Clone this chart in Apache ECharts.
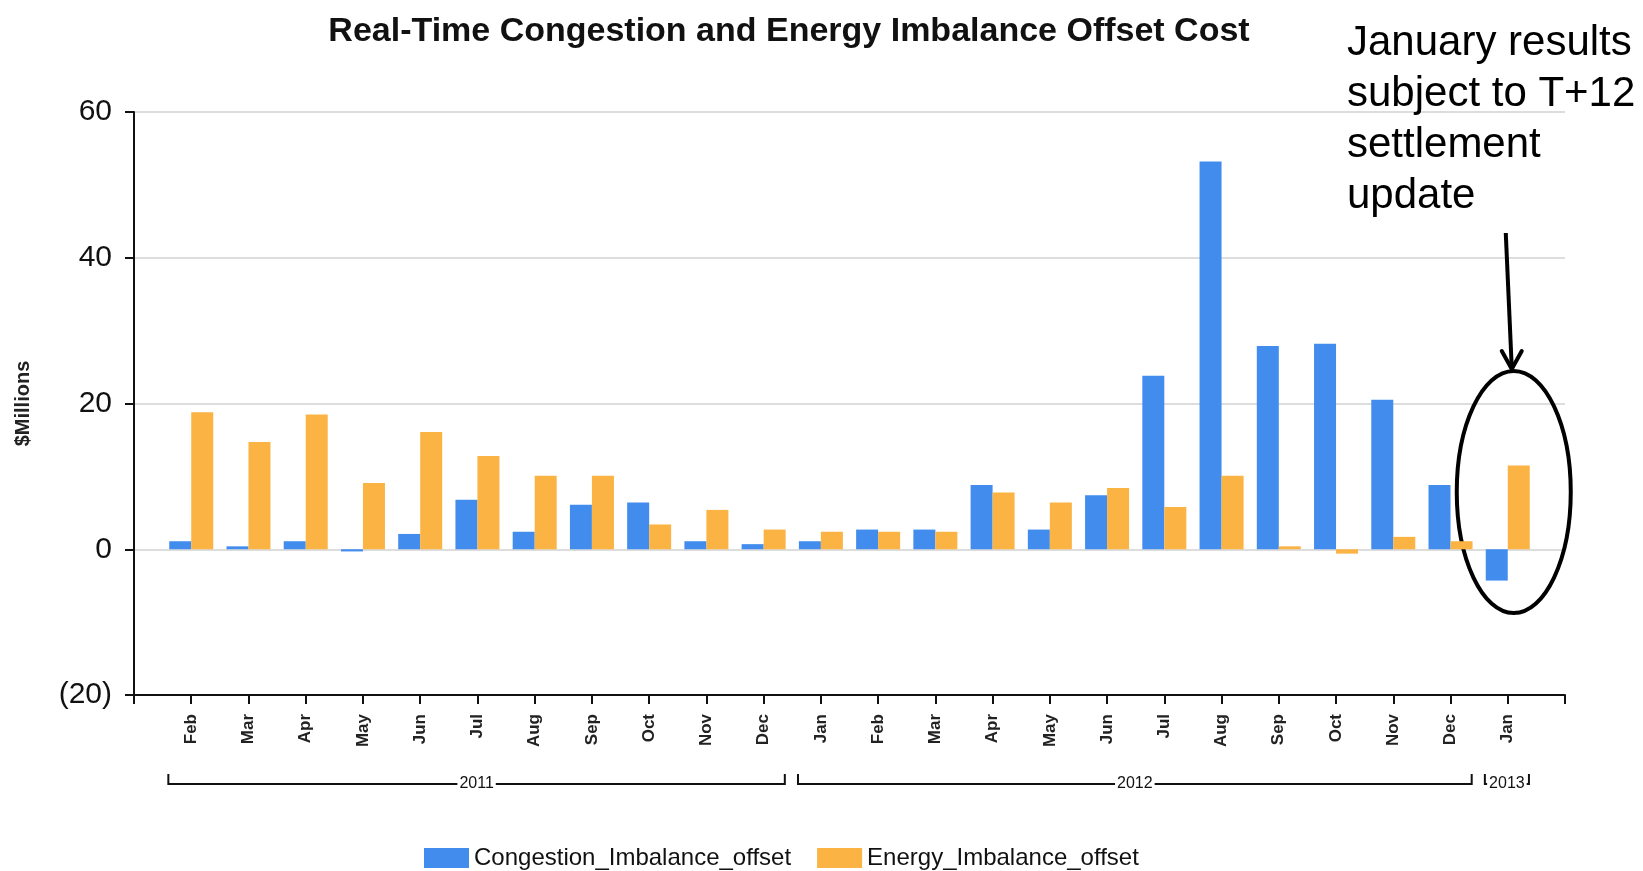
<!DOCTYPE html>
<html>
<head>
<meta charset="utf-8">
<title>Real-Time Congestion and Energy Imbalance Offset Cost</title>
<script src="https://cdn.jsdelivr.net/npm/echarts@6/dist/echarts.min.js"></script>
<style>
  html, body { margin: 0; padding: 0; background: #fff; }
  #bar { width: 1643px; height: 871px; }
</style>
</head>
<body>
<div id="bar"></div>
<script>
// ---------------- data ($Millions) ----------------
const months = ['Feb', 'Mar', 'Apr', 'May', 'Jun', 'Jul', 'Aug', 'Sep', 'Oct', 'Nov', 'Dec',
  'Jan', 'Feb', 'Mar', 'Apr', 'May', 'Jun', 'Jul', 'Aug', 'Sep', 'Oct', 'Nov', 'Dec',
  'Jan']
const congestion = [1.1, 0.4, 1.1, -0.3, 2.1, 6.8, 2.4, 6.1, 6.4, 1.1, 0.7,
  1.1, 2.7, 2.7, 8.8, 2.7, 7.4, 23.8, 53.2, 27.9, 28.2, 20.5, 8.8,
  -4.3]
const energy = [18.8, 14.7, 18.5, 9.1, 16.1, 12.8, 10.1, 10.1, 3.4, 5.4, 2.7,
  2.4, 2.4, 2.4, 7.8, 6.4, 8.4, 5.8, 10.1, 0.4, -0.6, 1.7, 1.1,
  11.5]
const years = ['2011', '2012', '2013']
const monthsPerYear = [11, 12, 1]
const yTicks = [-20, 0, 20, 40, 60]

const NARROW = "'Liberation Sans Narrow', 'Liberation Sans', Arial, sans-serif"
const SANS = "'Liberation Sans', Arial, sans-serif"

// empty slot on both ends so the axis runs one month past the first/last bar
const cats = [''].concat(months, [''])
const pad = arr => [null].concat(arr, [null])

function congestionChart() {
  let myChart = echarts.init(document.querySelector('#bar'))

  let option = {
    animation: false,
    title: {
      text: 'Real-Time Congestion and Energy Imbalance Offset Cost',
      left: 784,
      top: 10,
      textAlign: 'center',
      textStyle: { fontFamily: NARROW, fontSize: 34, fontWeight: 'bold', color: '#111' }
    },
    legend: {
      left: 419,
      top: 841,
      itemWidth: 45,
      itemHeight: 20,
      itemGap: 26,
      icon: 'rect',
      textStyle: { fontFamily: NARROW, fontSize: 24, color: '#111' }
    },
    grid: { left: 134, right: 78, top: 112, bottom: 176 },
    xAxis: {
      type: 'category',
      data: cats,
      boundaryGap: false,
      axisLine: { onZero: false, lineStyle: { color: '#111', width: 2 } },
      axisTick: { interval: 0, length: 9, lineStyle: { color: '#111', width: 2 } },
      axisLabel: {
        interval: 0,
        rotate: 90,
        margin: 19,
        fontFamily: SANS,
        fontSize: 17,
        fontWeight: 'bold',
        color: '#222'
      },
      splitLine: { show: false }
    },
    yAxis: {
      type: 'value',
      min: yTicks[0],
      max: yTicks[yTicks.length - 1],
      interval: yTicks[1] - yTicks[0],
      name: '$Millions',
      nameLocation: 'middle',
      nameRotate: 90,
      nameGap: 101,
      nameTextStyle: { fontFamily: SANS, fontSize: 20, fontWeight: 'bold', color: '#222' },
      axisLine: { show: true, lineStyle: { color: '#111', width: 2 } },
      axisTick: { show: true, length: 9, lineStyle: { color: '#111', width: 2 } },
      axisLabel: {
        margin: 22,
        fontFamily: NARROW,
        fontSize: 30,
        color: '#111',
        formatter: v => v < 0 ? '(' + (-v) + ')' : String(v)
      },
      splitLine: { lineStyle: { color: '#ddd', width: 2 } }
    },
    series: [
      {
        name: 'Congestion_Imbalance_offset',
        type: 'bar',
        data: pad(congestion),
        barWidth: 22,
        barGap: '0%',
        itemStyle: { color: '#428CEE' }
      },
      {
        name: 'Energy_Imbalance_offset',
        type: 'bar',
        data: pad(energy),
        barWidth: 22,
        itemStyle: { color: '#FBB343' }
      }
    ]
  }
  myChart.setOption(option)

  // ---- year brackets under the month labels + the January note ----
  const px = i => myChart.convertToPixel({ xAxisIndex: 0 }, i)
  const band = px(1) - px(0)
  const lineY = 784
  let graphic = []
  let start = 1
  years.forEach((y, k) => {
    const end = start + monthsPerYear[k] - 1
    const x1 = px(start) - band * 0.4
    const x2 = px(end) + band * 0.37
    graphic.push({
      type: 'polyline',
      shape: { points: [[x1, lineY - 10], [x1, lineY], [x2, lineY], [x2, lineY - 10]] },
      style: { stroke: '#111', lineWidth: 2, fill: null }
    })
    graphic.push({
      type: 'text',
      x: (x1 + x2) / 2,
      y: lineY,
      style: {
        text: y,
        fontFamily: NARROW,
        fontSize: 16,
        fill: '#111',
        align: 'center',
        verticalAlign: 'middle',
        backgroundColor: '#fff',
        padding: [0, 2]
      }
    })
    start = end + 1
  })

  const cx = px(months.length)
  graphic.push(
    {
      type: 'ellipse',
      shape: { cx: cx + 6, cy: 492, rx: 57, ry: 121 },
      style: { stroke: '#000', lineWidth: 4, fill: null }
    },
    {
      type: 'line',
      shape: { x1: cx - 2, y1: 233, x2: cx + 4, y2: 368 },
      style: { stroke: '#000', lineWidth: 4 }
    },
    {
      type: 'polyline',
      shape: { points: [[cx - 6, 351], [cx + 4, 369], [cx + 14, 351]] },
      style: { stroke: '#000', lineWidth: 4, fill: null, lineJoin: 'round', lineCap: 'round' }
    },
    {
      type: 'text',
      x: 1347,
      y: 18,
      style: {
        text: 'January results\nsubject to T+12\nsettlement\nupdate',
        fontFamily: SANS,
        fontSize: 42,
        lineHeight: 51,
        fill: '#000'
      }
    }
  )
  myChart.setOption({ graphic: graphic })
}

congestionChart()
</script>
</body>
</html>
